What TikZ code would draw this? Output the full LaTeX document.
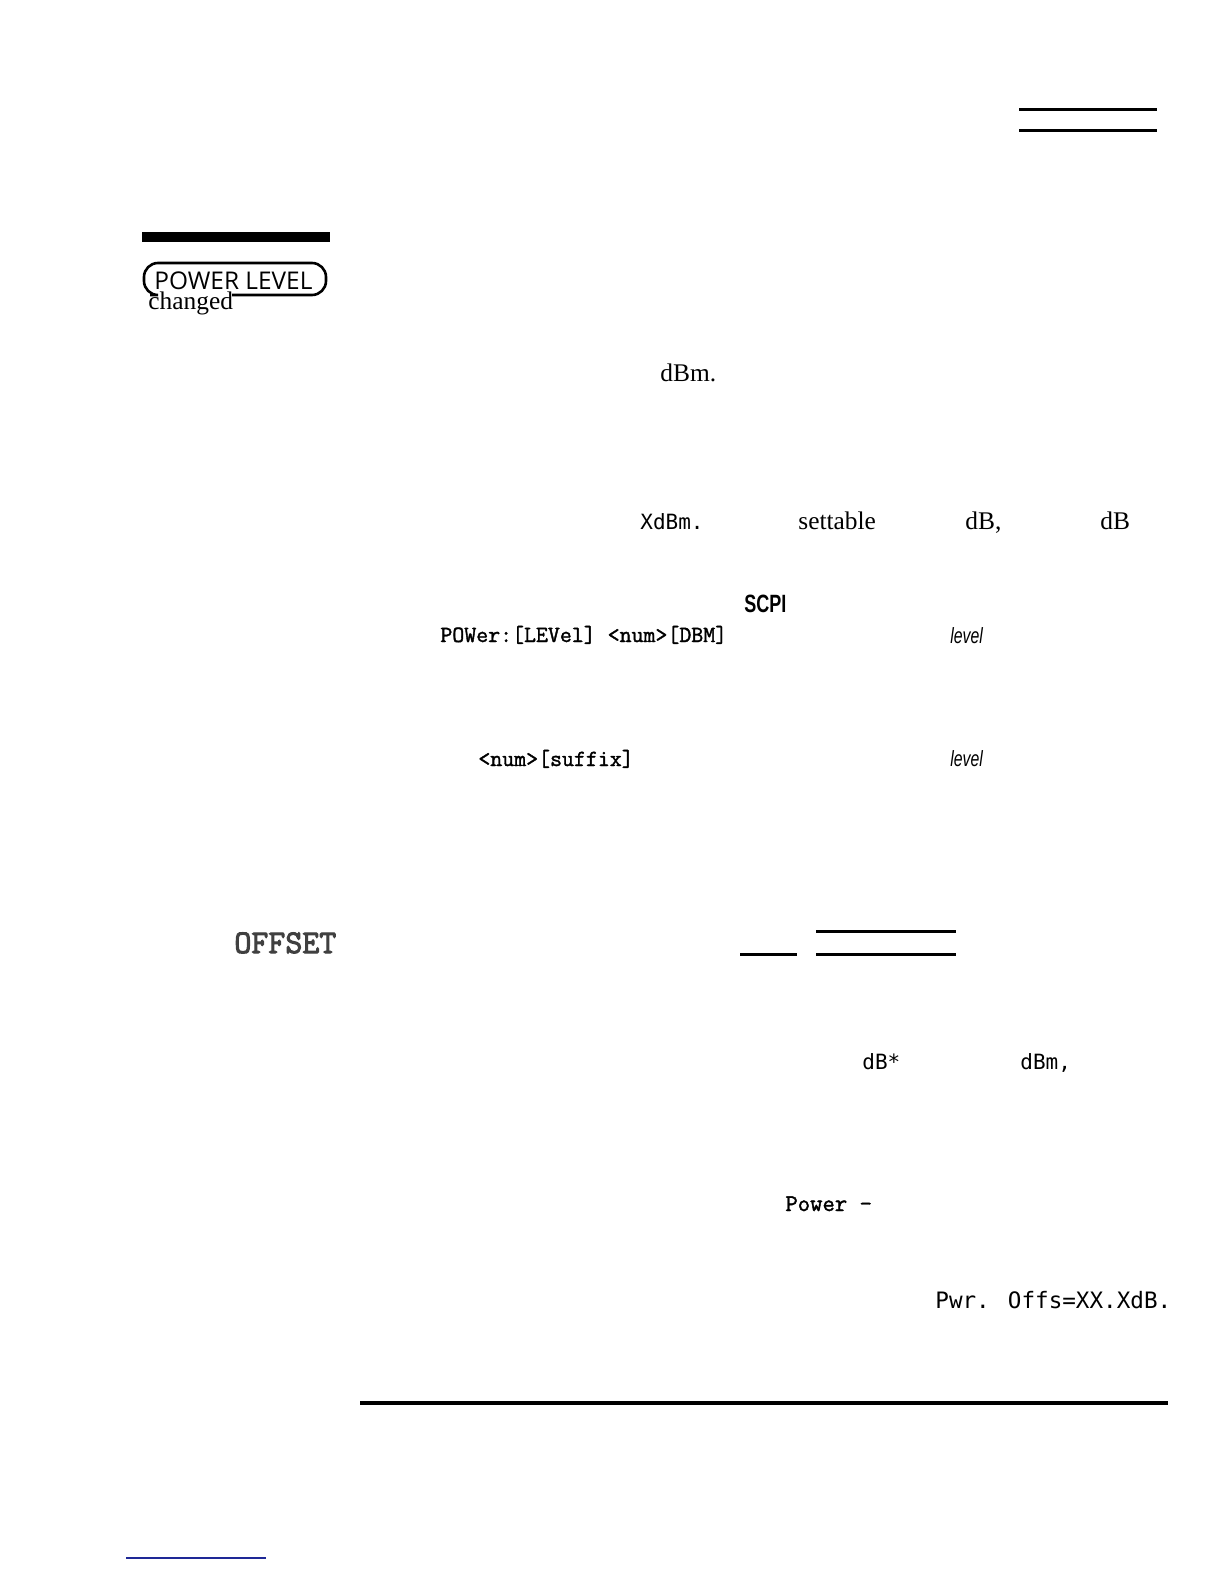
\documentclass[tikz,border=0pt]{standalone}
\usepackage{fontspec}
\setmainfont{Liberation Serif}
\newfontfamily\keyfont{Open Sans}
\newfontfamily\codefont[FakeBold=1.6]{Latin Modern Mono}
\newfontfamily\keycapfont[FakeBold=3]{Latin Modern Mono}
\newfontfamily\lcdfont{DejaVu Sans Mono}
\newfontfamily\narrowfont[FakeStretch=0.72]{Liberation Sans}
\usetikzlibrary{positioning}
\definecolor{linkblue}{RGB}{30, 40, 150}

\tikzset{
  body/.style={inner sep=0pt, anchor=base west, font=\fontsize{12.7}{15}\selectfont},
  code/.style={inner sep=0pt, anchor=base west, font=\codefont\fontsize{11.6}{13}\selectfont},
  lcd/.style={inner sep=0pt, anchor=base west, font=\lcdfont\fontsize{10.5}{12}\selectfont},
  rulebar/.style={line width=1.5pt},
}

\begin{document}
\begin{tikzpicture}[x=0.5pt, y=-0.5pt]
  \useasboundingbox (0,0) rectangle (1224,1584);
  % header rules
  \draw[rulebar] (1019,110) -- (1157,110);
  \draw[rulebar] (1019,131) -- (1157,131);
  \draw[line width=5pt] (142,237) -- (330,237);

  % front panel key
  \node[inner sep=0pt, anchor=base west, font=\keyfont\fontsize{12.2}{14}\selectfont] (keylabel) at (154,289) {POWER LEVEL};
  \draw[line width=1.3pt, rounded corners=7] (232,295) -| (326,263) -| (144,295) -- (150,295);
  \node[body] (changed) at (148,309) {changed};

  % body text
  \node[body] (dbm) at (660,381) {dBm.};
  \node[lcd] (xdbm) at (640,529) {XdBm.};
  \node[body] (settable) at (798,529) {settable};
  \node[body] (dbcomma) at (965,529) {dB,};
  \node[body] (dbend) at (1100,529) {dB};

  % SCPI commands
  \node[inner sep=0pt, anchor=base west, font=\narrowfont\bfseries\fontsize{12.5}{14}\selectfont] (scpi) at (744,612) {SCPI};
  \node[code] (powercmd) at (440,642) {POWer:[LEVel] <num>[DBM]};
  \node[inner sep=0pt, anchor=base west, font=\narrowfont\itshape\fontsize{11}{13}\selectfont] (levelA) at (950,643) {level};
  \node[code] (suffixcmd) at (478,766) {<num>[suffix]};
  \node[inner sep=0pt, anchor=base west, font=\narrowfont\itshape\fontsize{11}{13}\selectfont] (levelB) at (950,766) {level};

  % offset key
  \node[inner sep=0pt, anchor=base west, text=black!75, font=\keycapfont\fontsize{16.5}{18}\selectfont] (offset) at (234,953) {OFFSET};
  \draw[rulebar] (740,954) -- (797,954);
  \draw[rulebar] (816,931) -- (956,931);
  \draw[rulebar] (816,954) -- (956,954);

  % display readouts
  \node[lcd] (dbstar) at (862,1069) {dB*};
  \node[lcd] (dbmcomma) at (1020,1069) {dBm,};
  \node[code, font=\codefont\fontsize{12}{14}\selectfont] (powerdash) at (785,1211) {Power –};
  \node[lcd, font=\lcdfont\fontsize{11.3}{13}\selectfont] (pwroffs) at (935,1308) {Pwr. Offs=XX.XdB.};

  % footer
  \draw[line width=2pt] (360,1403) -- (1168,1403);
  \draw[linkblue, line width=1pt] (126,1558) -- (266,1558);
\end{tikzpicture}
\end{document}
